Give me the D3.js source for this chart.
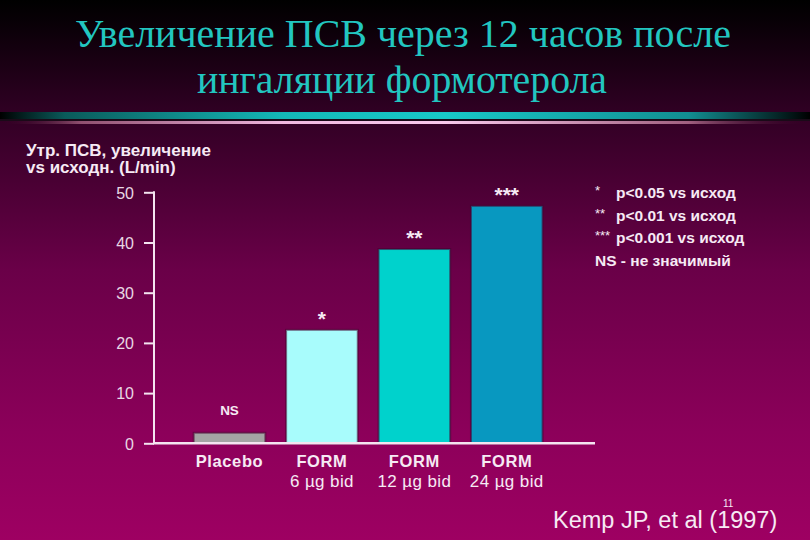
<!DOCTYPE html>
<html><head><meta charset="utf-8">
<script src="https://cdn.jsdelivr.net/npm/d3@7"></script>
<style>html,body{margin:0;padding:0;background:#000;}svg{display:block;}
.serif{font-family:"Liberation Serif","Times New Roman","DejaVu Serif",serif;}
</style>
</head><body>
<script>
const categories = ["Placebo", "FORM 6 µg bid", "FORM 12 µg bid", "FORM 24 µg bid"];
const labelLine1 = ["Placebo", "FORM", "FORM", "FORM"];
const labelLine2 = ["", "6 µg bid", "12 µg bid", "24 µg bid"];
const values = [2.1, 22.6, 38.7, 47.3];
const significance = ["NS", "*", "**", "***"];
const barColors = ["#a4a4a4", "#a8fcfc", "#00d2cc", "#0898c0"];
const yTicks = [0, 10, 20, 30, 40, 50];
const legendLines = [["*", "p<0.05 vs исход"], ["**", "p<0.01 vs исход"], ["***", "p<0.001 vs исход"], ["", "NS - не значимый"]];
const titleLines = ["Увеличение ПСВ через 12 часов после", "ингаляции формотерола"];
const yLabelLines = ["Утр. ПСВ, увеличение", "vs исходн. (L/min)"];

const W = 810, H = 540;
const SANS = "'Liberation Sans', Arial, sans-serif";
const TXT = "#f6eaf4";
const svg = d3.select("body").append("svg").attr("width", W).attr("height", H);
const defs = svg.append("defs");

const bg = defs.append("linearGradient").attr("id", "bg").attr("x1", 0).attr("y1", 0).attr("x2", 0).attr("y2", 1);
[[0, "#000000"], [0.04, "#080006"], [0.2, "#2e0022"], [0.5, "#6a0048"], [0.8, "#8c005a"], [1, "#9e0062"]]
  .forEach(([o, c]) => bg.append("stop").attr("offset", o).attr("stop-color", c));
svg.append("rect").attr("width", W).attr("height", H).attr("fill", "url(#bg)");

// separator bands
const cy = defs.append("linearGradient").attr("id", "cy");
[[0, "#000000"], [0.08, "#0a5a5a"], [0.35, "#14b8b8"], [0.55, "#18c8c8"], [0.85, "#128e92"], [1, "#000000"]]
  .forEach(([o, c]) => cy.append("stop").attr("offset", o).attr("stop-color", c));
const pk = defs.append("linearGradient").attr("id", "pk");
[[0, "#300020", 0], [0.1, "#905070", 1], [0.35, "#f0b8e0", 1], [0.55, "#f8c8ec", 1], [0.85, "#a06080", 1], [1, "#300020", 0]]
  .forEach(([o, c, a]) => pk.append("stop").attr("offset", o).attr("stop-color", c).attr("stop-opacity", a));
svg.append("rect").attr("x", 0).attr("y", 112).attr("width", W).attr("height", 7).attr("fill", "url(#cy)");
svg.append("rect").attr("x", 0).attr("y", 119).attr("width", W).attr("height", 2).attr("fill", "#1a0a18");
svg.append("rect").attr("x", 0).attr("y", 121).attr("width", W).attr("height", 3).attr("fill", "url(#pk)");

// title
const titleX = [[75, 656], [197, 410]];
const titleY = [47, 93];
titleLines.forEach((t, i) => {
  svg.append("text").attr("class", "serif").attr("x", titleX[i][0]).attr("y", titleY[i])
    .attr("textLength", titleX[i][1]).attr("lengthAdjust", "spacingAndGlyphs")
    .attr("font-size", 40)
    .attr("fill", "#22c6c0").text(t);
});

// scales
const y = d3.scaleLinear().domain([0, 50]).range([443.3, 192.3]);
const x = d3.scaleBand().domain(categories).range([183.3, 553]).paddingInner(0.225).paddingOuter(0.1125);

// bars
svg.append("g").selectAll("rect").data(values).join("rect")
  .attr("x", (d, i) => x(categories[i]))
  .attr("y", d => y(d))
  .attr("width", x.bandwidth())
  .attr("height", d => y(0) - y(d))
  .attr("fill", (d, i) => barColors[i])
  .attr("stroke", "rgba(70,0,45,0.55)").attr("stroke-width", 2);

// axes
const yAxis = d3.axisLeft(y).tickValues(yTicks).tickSize(10).tickPadding(10);
const gy = svg.append("g").attr("transform", "translate(154,0)").call(yAxis);
gy.select(".domain").remove();
gy.selectAll(".tick line").attr("stroke", "#f4e4f0").attr("stroke-width", 2);
gy.selectAll(".tick text").attr("fill", "#e8d8e4").style("font-family", SANS)
  .style("font-size", "16px").attr("dy", "0.36em");
svg.append("line").attr("x1", 154).attr("x2", 154).attr("y1", y(50) - 1).attr("y2", y(0))
  .attr("stroke", "#f4e4f0").attr("stroke-width", 2);
svg.append("line").attr("x1", 153).attr("x2", 595).attr("y1", y(0)).attr("y2", y(0))
  .attr("stroke", "#f4e4f0").attr("stroke-width", 2.5);

// y label
yLabelLines.forEach((t, i) => {
  svg.append("text").attr("x", 26).attr("y", 155.5 + i * 17.5)
    .style("font-family", SANS).style("font-weight", "bold")
    .style("font-size", "17px").attr("fill", TXT).text(t);
});

// significance marks
svg.append("g").selectAll("text").data(values).join("text")
  .attr("x", (d, i) => x(categories[i]) + x.bandwidth() / 2)
  .attr("y", (d, i) => i === 0 ? y(d) - 18 : y(d) - 4)
  .attr("text-anchor", "middle")
  .style("font-family", SANS).style("font-weight", "bold")
  .style("font-size", (d, i) => i === 0 ? "13.5px" : "21px")
  .attr("fill", TXT)
  .text((d, i) => significance[i]);

// x labels
categories.forEach((c, i) => {
  const cx = x(c) + x.bandwidth() / 2;
  svg.append("text").attr("x", cx).attr("y", 467).attr("text-anchor", "middle")
    .style("font-family", SANS).style("font-weight", "bold").style("letter-spacing", "0.6px")
    .style("font-size", "16.5px").attr("fill", TXT).text(labelLine1[i]);
  if (labelLine2[i]) svg.append("text").attr("x", cx).attr("y", 487).attr("text-anchor", "middle")
    .style("font-family", SANS).style("letter-spacing", "0.4px")
    .style("font-size", "17px").attr("fill", TXT).text(labelLine2[i]);
});

// legend
legendLines.forEach((l, i) => {
  const yy = 198 + i * 22.7;
  if (l[0]) svg.append("text").attr("x", 595).attr("y", yy - 3)
    .style("font-family", SANS).style("font-size", "13px").attr("fill", TXT).text(l[0]);
  svg.append("text").attr("x", l[0] ? 616 : 595).attr("y", yy)
    .style("font-family", SANS).style("font-weight", "bold")
    .style("font-size", "15.5px").attr("fill", TXT).text(l[1]);
});

// citation
svg.append("text").attr("x", 553).attr("y", 528)
  .style("font-family", SANS).style("font-size", "23.5px")
  .attr("fill", TXT).text("Kemp JP, et al (1997)");
svg.append("text").attr("x", 723).attr("y", 507)
  .style("font-family", SANS).style("font-size", "10px")
  .attr("fill", TXT).text("11");
</script>
</body></html>
